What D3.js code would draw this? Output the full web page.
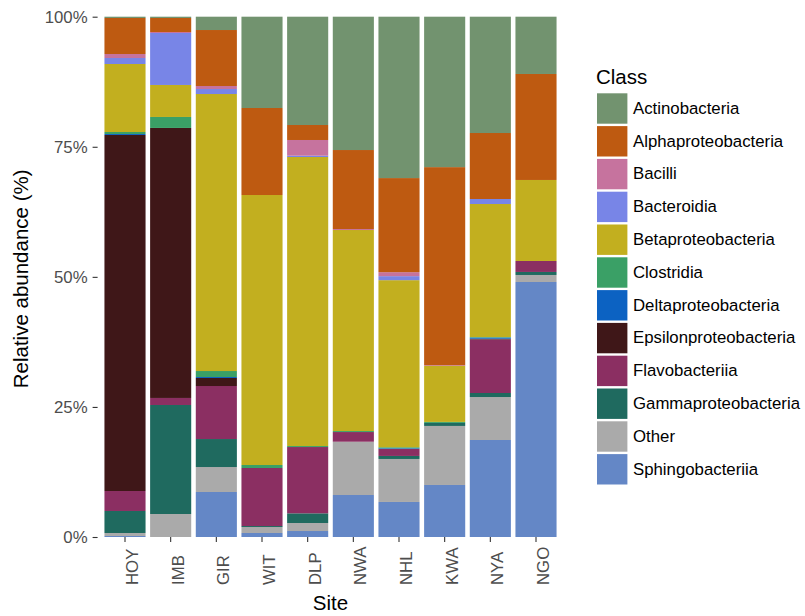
<!DOCTYPE html>
<html>
<head>
<meta charset="utf-8">
<script src="https://cdn.jsdelivr.net/npm/d3@7"></script>
<style>
    body { margin: 0; background: #ffffff; }
    svg { display: block; }
</style>
</head>
<body>
<div id="chart"></div>
<script>
// Données (abondance relative, %)
const sites = ["HOY", "IMB", "GIR", "WIT", "DLP", "NWA", "NHL", "KWA", "NYA", "NGO"];

const classes = [
    "Actinobacteria", "Alphaproteobacteria", "Bacilli", "Bacteroidia",
    "Betaproteobacteria", "Clostridia", "Deltaproteobacteria", "Epsilonproteobacteria",
    "Flavobacteriia", "Gammaproteobacteria", "Other", "Sphingobacteriia"
];

const classColors = [
    "#72936F", "#BE5A11", "#C6739E", "#7885E7",
    "#C2AF1F", "#3AA066", "#0C62C2", "#3F1718",
    "#8B2F62", "#1F6A5F", "#AAAAAA", "#6487C6"
];

// une valeur par site, dans l'ordre de `sites`
const actinobacteria        = [0.25, 0.25, 2.56, 17.55, 20.81, 25.62, 31.00, 28.89, 22.35, 11.01];
const alphaproteobacteria   = [6.92, 2.69, 10.76, 16.72, 2.88, 15.18, 18.07, 38.05, 12.68, 20.37];
const bacilli               = [0.77, 0.19, 0.58, 0, 3.02, 0.19, 0.77, 0.13, 0, 0];
const bacteroidia           = [1.15, 9.99, 0.96, 0, 0.25, 0, 0.77, 0, 0.96, 0];
const betaproteobacteria    = [13.07, 6.15, 53.24, 51.89, 55.54, 38.63, 32.10, 10.76, 25.56, 15.57];
const clostridia            = [0.38, 2.11, 1.15, 0.58, 0.19, 0.19, 0.19, 0.19, 0.10, 0];
const deltaproteobacteria   = [0.19, 0, 0.19, 0, 0, 0, 0.13, 0, 0.23, 0];
const epsilonproteobacteria = [68.42, 51.89, 1.54, 0, 0, 0, 0, 0, 0.15, 0];
const flavobacteriia        = [3.84, 1.35, 10.19, 11.15, 12.74, 1.86, 1.35, 0, 10.28, 2.11];
const gammaproteobacteria   = [4.23, 20.95, 5.38, 0.19, 1.86, 0, 0.58, 0.58, 0.77, 0.58];
const other                 = [0.58, 4.42, 4.80, 1.15, 1.54, 10.24, 8.26, 11.34, 8.26, 1.35];
const sphingobacteriia      = [0.19, 0, 8.65, 0.77, 1.15, 8.07, 6.73, 9.99, 18.64, 49.01];

const yTicks = [0, 0.25, 0.5, 0.75, 1];

const series = [
    actinobacteria, alphaproteobacteria, bacilli, bacteroidia,
    betaproteobacteria, clostridia, deltaproteobacteria, epsilonproteobacteria,
    flavobacteriia, gammaproteobacteria, other, sphingobacteriia
];

const table = sites.map((site, i) => {
    const row = { Site: site };
    classes.forEach((c, k) => { row[c] = series[k][i]; });
    return row;
});

const width = 805;
const height = 616;
const margin = { top: 16.7, right: 241.6, bottom: 79, left: 97.6 };
const font = "'Liberation Sans', Arial, Helvetica, sans-serif";

const svg = d3.select("#chart").append("svg")
    .attr("width", width)
    .attr("height", height)
    .attr("viewBox", [0, 0, width, height])
    .style("font-family", font);

svg.append("rect")
    .attr("width", width)
    .attr("height", height)
    .attr("fill", "#ffffff");

const x = d3.scaleBand()
    .domain(sites)
    .range([margin.left, width - margin.right])
    .paddingInner(0.1)
    .paddingOuter(0.15);

const y = d3.scaleLinear()
    .domain([0, 1])
    .range([height - margin.bottom, margin.top]);

const color = d3.scaleOrdinal()
    .domain(classes)
    .range(classColors);

// empilement : Sphingobacteriia en bas, Actinobacteria en haut
const stack = d3.stack()
    .keys(classes.slice().reverse())
    .offset(d3.stackOffsetExpand);

const layers = stack(table);

svg.append("g")
    .selectAll("g")
    .data(layers)
    .join("g")
    .attr("fill", d => color(d.key))
    .selectAll("rect")
    .data(d => d)
    .join("rect")
    .attr("x", d => x(d.data.Site))
    .attr("y", d => y(d[1]))
    .attr("width", x.bandwidth())
    .attr("height", d => Math.max(0, y(d[0]) - y(d[1])));

// Axes
function createAxes() {
    svg.append("g")
        .attr("transform", `translate(${margin.left},0)`)
        .call(d3.axisLeft(y)
            .tickValues(yTicks)
            .tickFormat(d3.format(".0%"))
            .tickSize(5)
            .tickPadding(5))
        .call(g => g.select(".domain").remove())
        .call(g => g.selectAll(".tick line").attr("stroke", "#333333").attr("stroke-width", 1.1))
        .call(g => g.selectAll(".tick text")
            .attr("fill", "#4D4D4D")
            .style("font-family", font)
            .style("font-size", "16.8px"));

    const xAxis = svg.append("g")
        .attr("transform", `translate(0,${height - margin.bottom})`)
        .call(d3.axisBottom(x).tickSize(5).tickPadding(5))
        .call(g => g.select(".domain").remove())
        .call(g => g.selectAll(".tick line").attr("stroke", "#333333").attr("stroke-width", 1.1));

    xAxis.selectAll(".tick text")
        .attr("fill", "#4D4D4D")
        .style("font-family", font)
        .style("font-size", "16.8px")
        .attr("text-anchor", "start")
        .attr("dy", null)
        .attr("y", 0)
        .attr("transform", "translate(13,48) rotate(-90)");
}

createAxes();

// Titres des axes
svg.append("text")
    .attr("transform", `translate(28,${(margin.top + height - margin.bottom) / 2 + 2}) rotate(-90)`)
    .attr("text-anchor", "middle")
    .style("font-size", "20.5px")
    .attr("fill", "#000000")
    .text("Relative abundance (%)");

svg.append("text")
    .attr("x", (margin.left + width - margin.right) / 2)
    .attr("y", 610)
    .attr("text-anchor", "middle")
    .style("font-size", "20.5px")
    .attr("fill", "#000000")
    .text("Site");

// Légende
function createLegend() {
    const legend = svg.append("g")
        .attr("transform", "translate(597,93.3)");

    legend.append("text")
        .attr("x", -1)
        .attr("y", -9)
        .style("font-size", "20.5px")
        .attr("fill", "#000000")
        .text("Class");

    const items = legend.selectAll("g.legend-item")
        .data(classes)
        .join("g")
        .attr("class", "legend-item")
        .attr("transform", (d, i) => `translate(0,${i * 32.8})`);

    items.append("rect")
        .attr("width", 30.4)
        .attr("height", 30.4)
        .attr("fill", d => color(d));

    items.append("text")
        .attr("x", 36)
        .attr("y", 14.6)
        .attr("dy", "0.35em")
        .style("font-size", "16.8px")
        .attr("fill", "#000000")
        .text(d => d);
}

createLegend();
</script>
</body>
</html>
